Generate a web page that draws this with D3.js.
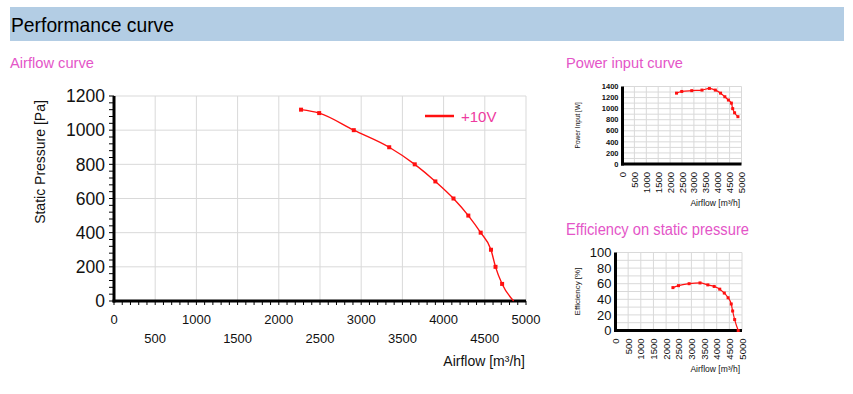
<!DOCTYPE html>
<html><head><meta charset="utf-8">
<script src="https://cdn.jsdelivr.net/npm/d3@7"></script>
<style>body{margin:0;background:#fff}svg{display:block;font-family:Arial,"Liberation Sans",sans-serif}</style>
</head><body>
<svg id="c" width="853" height="394"></svg>
<script>
const airflow = [2270, 2490, 2910, 3340, 3650, 3900, 4120, 4300, 4450, 4575, 4630, 4710, 4850];
const pressure = [1120, 1100, 1000, 900, 800, 700, 600, 500, 400, 300, 200, 100, 0];
const power = [1280, 1310, 1325, 1335, 1365, 1335, 1280, 1215, 1155, 1100, 1000, 925, 855];
const efficiency = [55, 57.5, 60, 61, 58.5, 56.5, 53, 48, 42, 34, 25, 14, 0];
const xTicks = [0, 500, 1000, 1500, 2000, 2500, 3000, 3500, 4000, 4500, 5000];
const pressureTicks = [0, 200, 400, 600, 800, 1000, 1200];
const powerTicks = [0, 200, 400, 600, 800, 1000, 1200, 1400];
const effTicks = [0, 20, 40, 60, 80, 100];
const seriesName = "+10V";

const svg = d3.select("#c");
const pink = "#e455c8";
const red = "#ff1010";
const grid = "#d9d9d9";

// header
svg.append("rect").attr("x",10).attr("y",7).attr("width",834).attr("height",34).attr("fill","#b3cde4");
svg.append("text").attr("x",11).attr("y",32).attr("font-size",21).attr("fill","#000")
  .attr("textLength",163).attr("lengthAdjust","spacingAndGlyphs").text("Performance curve");
svg.append("text").attr("x",10).attr("y",68).attr("font-size",15).attr("fill",pink)
  .attr("textLength",84).attr("lengthAdjust","spacingAndGlyphs").text("Airflow curve");
svg.append("text").attr("x",566).attr("y",68).attr("font-size",15).attr("fill",pink)
  .attr("textLength",117).attr("lengthAdjust","spacingAndGlyphs").text("Power input curve");
svg.append("text").attr("x",566).attr("y",235).attr("font-size",16).attr("fill",pink)
  .attr("textLength",183).attr("lengthAdjust","spacingAndGlyphs").text("Efficiency on static pressure");

// ---------- main chart ----------
{
  const x = d3.scaleLinear().domain([0,5000]).range([114,526]);
  const y = d3.scaleLinear().domain([0,1200]).range([301,96]);
  const g = svg.append("g");
  g.selectAll(".vg").data(xTicks.slice(1)).join("line")
    .attr("x1",d=>x(d)).attr("x2",d=>x(d)).attr("y1",y(1200)).attr("y2",y(0))
    .attr("stroke",grid).attr("stroke-width",1);
  g.selectAll(".hg").data(pressureTicks.slice(1)).join("line")
    .attr("x1",x(0)).attr("x2",x(5000)).attr("y1",d=>y(d)).attr("y2",d=>y(d))
    .attr("stroke",grid).attr("stroke-width",1);
  const yMinor = d3.range(0,1201,40);
  g.selectAll(".ym").data(yMinor).join("line")
    .attr("x1",x(0)-5).attr("x2",x(0)).attr("y1",d=>y(d)).attr("y2",d=>y(d))
    .attr("stroke","#000").attr("stroke-width",1);
  const xMinor = d3.range(0,5001,100);
  g.selectAll(".xm").data(xMinor).join("line")
    .attr("x1",d=>x(d)).attr("x2",d=>x(d)).attr("y1",y(0)).attr("y2",y(0)+4)
    .attr("stroke","#000").attr("stroke-width",1);
  g.append("line").attr("x1",x(0)).attr("x2",x(0)).attr("y1",y(1200)).attr("y2",y(0)+1.5).attr("stroke","#000").attr("stroke-width",3);
  g.append("line").attr("x1",x(0)-1.5).attr("x2",x(5000)).attr("y1",y(0)).attr("y2",y(0)).attr("stroke","#000").attr("stroke-width",3);
  g.selectAll(".yl").data(pressureTicks).join("text")
    .attr("x",105).attr("y",d=>y(d)).attr("dy","0.36em").attr("text-anchor","end")
    .attr("font-size",17.5).attr("fill","#111").text(d=>d);
  g.selectAll(".xl").data(xTicks).join("text")
    .attr("x",d=>x(d)).attr("y",(d,i)=> i%2===0 ? 324 : 343).attr("text-anchor","middle")
    .attr("font-size",13).attr("fill","#111").text(d=>d);
  g.append("text").attr("transform","translate(45,162) rotate(-90)").attr("text-anchor","middle")
    .attr("font-size",14).attr("fill","#111").text("Static Pressure [Pa]");
  g.append("text").attr("x",525).attr("y",366).attr("text-anchor","end")
    .attr("font-size",14).attr("fill","#111").text("Airflow [m³/h]");
  const pts = airflow.map((a,i)=>[a,pressure[i]]);
  g.append("path").attr("d",d3.line().x(d=>x(d[0])).y(d=>y(d[1])).curve(d3.curveMonotoneX)(pts))
    .attr("fill","none").attr("stroke",red).attr("stroke-width",1.4);
  g.selectAll(".pt").data(pts.slice(0,-1)).join("rect")
    .attr("x",d=>x(d[0])-2).attr("y",d=>y(d[1])-2).attr("width",4).attr("height",4).attr("fill",red);
  g.append("line").attr("x1",425).attr("x2",454).attr("y1",116).attr("y2",116).attr("stroke",red).attr("stroke-width",2.5);
  g.append("text").attr("x",461).attr("y",122).attr("font-size",15).attr("fill","#ee3aa0").text(seriesName);
}

function small(opts){
  const x = d3.scaleLinear().domain([0,5000]).range([opts.x0,opts.x1]);
  const y = d3.scaleLinear().domain([0,opts.ymax]).range([opts.y0,opts.y1]);
  const g = svg.append("g");
  g.selectAll(".vg").data(xTicks.slice(1)).join("line")
    .attr("x1",d=>x(d)).attr("x2",d=>x(d)).attr("y1",y(opts.ymax)).attr("y2",y(0))
    .attr("stroke",grid).attr("stroke-width",1);
  g.selectAll(".hg").data(d3.range(opts.gridStep,opts.ymax+0.001,opts.gridStep)).join("line")
    .attr("x1",x(0)).attr("x2",x(5000)).attr("y1",d=>y(d)).attr("y2",d=>y(d))
    .attr("stroke",grid).attr("stroke-width",1);
  g.append("line").attr("x1",x(0)).attr("x2",x(0)).attr("y1",y(opts.ymax)).attr("y2",y(0)+1.5).attr("stroke","#000").attr("stroke-width",3);
  g.append("line").attr("x1",x(0)-1.5).attr("x2",x(5000)).attr("y1",y(0)).attr("y2",y(0)).attr("stroke","#000").attr("stroke-width",3);
  g.selectAll(".yl").data(opts.ticks).join("text")
    .attr("x",opts.x0-4).attr("y",d=>y(d)).attr("dy","0.36em").attr("text-anchor","end")
    .attr("font-size",opts.yfs).attr("font-weight",opts.yfw||"normal").attr("fill","#111").text(d=>d);
  g.selectAll(".xl").data(xTicks).join("text")
    .attr("transform",d=>`translate(${x(d)+3.5},${opts.y0+8}) rotate(-90)`).attr("text-anchor","end")
    .attr("font-size",9.5).attr("fill","#111").text(d=>d);
  g.append("text").attr("transform",`translate(${opts.ytx},${(opts.y0+opts.y1)/2}) rotate(-90)`).attr("text-anchor","middle")
    .attr("font-size",opts.ytfs).attr("fill","#111").text(opts.ytitle);
  g.append("text").attr("x",740).attr("y",opts.xty).attr("text-anchor","end")
    .attr("font-size",8.5).attr("fill","#111").text("Airflow  [m³/h]");
  const pts = airflow.map((a,i)=>[a,opts.values[i]]);
  g.append("path").attr("d",d3.line().x(d=>x(d[0])).y(d=>y(d[1])).curve(d3.curveMonotoneX)(pts))
    .attr("fill","none").attr("stroke",red).attr("stroke-width",1.2);
  g.selectAll(".pt").data(pts).join("rect")
    .attr("x",d=>x(d[0])-1.5).attr("y",d=>y(d[1])-1.5).attr("width",3).attr("height",3).attr("fill",red);
}
small({x0:622.5,x1:741.5,y0:164,y1:86.5,ymax:1400,gridStep:100,ticks:powerTicks,values:power,yfs:7.5,yfw:"bold",ytitle:"Power Input [W]",ytx:580,ytfs:6.5,xty:206});
small({x0:615.5,x1:742,y0:330.5,y1:252.5,ymax:100,gridStep:10,ticks:effTicks,values:efficiency,yfs:13,ytitle:"Efficiency [%]",ytx:580,ytfs:8,xty:372});
</script>
</body></html>
